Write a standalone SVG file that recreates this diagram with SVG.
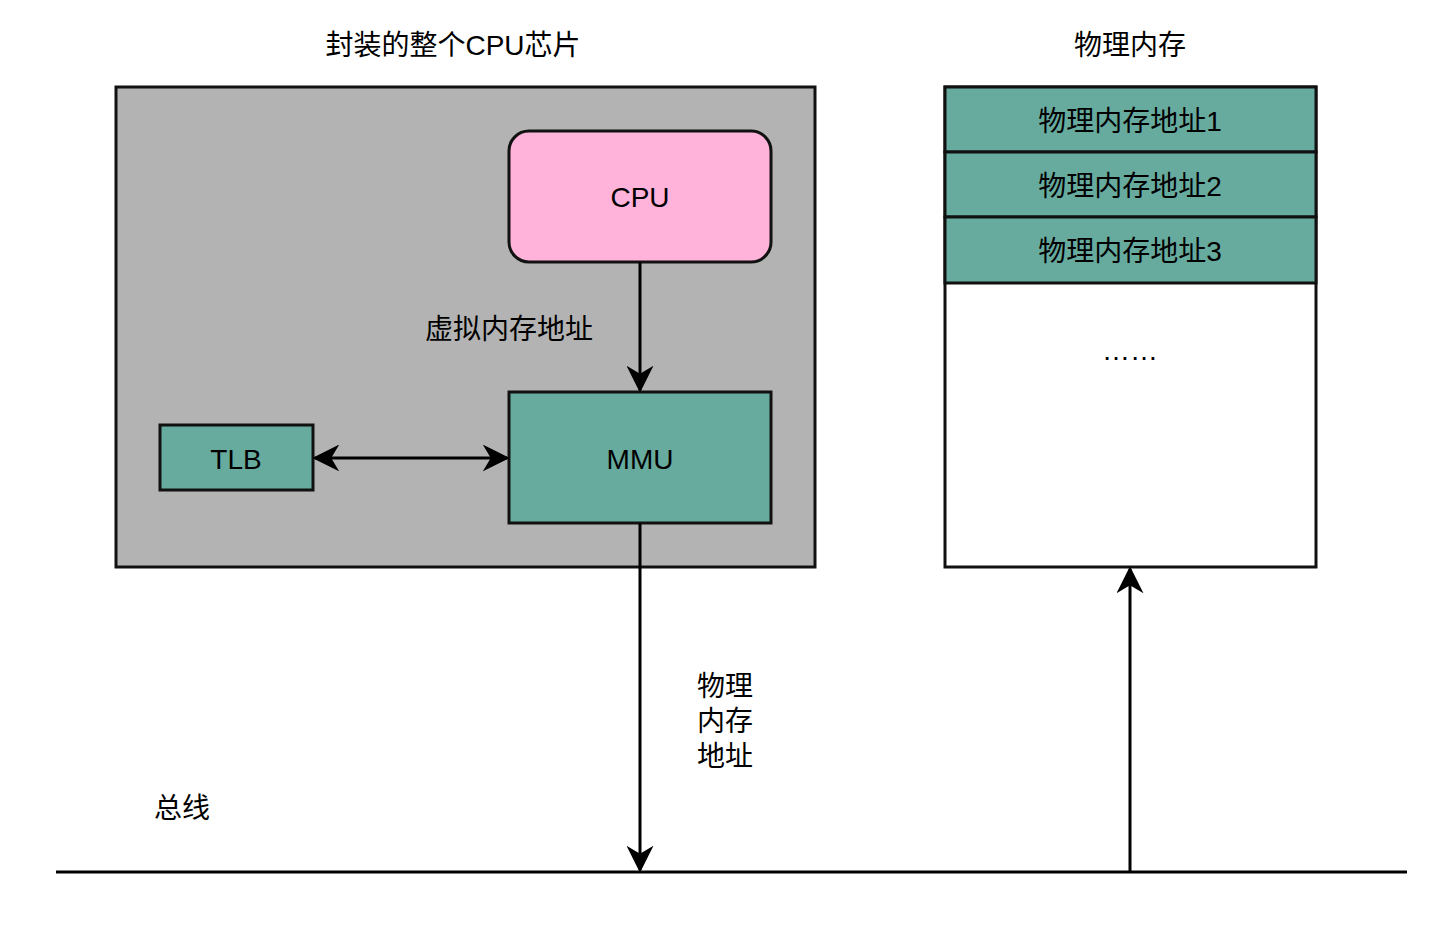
<svg xmlns="http://www.w3.org/2000/svg" width="1443" height="928" viewBox="0 0 1443 928">
<defs>
<style>
text{font-family:"Liberation Sans","Noto Sans CJK SC",sans-serif;font-size:28px;fill:#000;text-anchor:middle;dominant-baseline:central}
.b{stroke:#111;stroke-width:3}
.t{fill:#67ab9f}
.l{stroke:#000;stroke-width:3;fill:none}
</style>
<marker id="a" viewBox="0 0 10 10" refX="9" refY="5" markerWidth="8" markerHeight="8" markerUnits="userSpaceOnUse" orient="auto-start-reverse"><path d="M0,0 L10,5 L0,10 L3,5 Z" fill="#000"/></marker>
<marker id="m" viewBox="0 0 10 10" refX="9" refY="5" markerWidth="9" markerHeight="9" orient="auto-start-reverse"><path d="M0,0 L10,5 L0,10 L3,5 Z" fill="#000"/></marker>
</defs>
<rect width="1443" height="928" fill="#fff"/>
<g id="chip"><rect x="116" y="87" width="699" height="480" fill="#b3b3b3" class="b"/><text x="453" y="45">封装的整个CPU芯片</text></g>
<g id="cpu"><rect x="509" y="131" width="262" height="131" rx="20" fill="#ffb3da" class="b"/><text x="640" y="197">CPU</text></g>
<g id="mmu"><rect x="509" y="392" width="262" height="131" class="b t"/><text x="640" y="459">MMU</text></g>
<g id="tlb"><rect x="160" y="425" width="153" height="65" class="b t"/><text x="236" y="459">TLB</text></g>
<g id="mem"><text x="1130" y="45">物理内存</text>
<rect x="945" y="87" width="371" height="480" fill="#fff" class="b"/>
<rect x="945" y="87" width="371" height="65" class="b t"/><text x="1130" y="121">物理内存地址1</text>
<rect x="945" y="152" width="371" height="65" class="b t"/><text x="1130" y="186">物理内存地址2</text>
<rect x="945" y="217" width="371" height="66" class="b t"/><text x="1130" y="251">物理内存地址3</text>
<text x="1130" y="350">……</text></g>
<g id="labels">
<text x="509" y="329">虚拟内存地址</text>
<text x="697" y="686" style="text-anchor:start">物理</text>
<text x="697" y="721" style="text-anchor:start">内存</text>
<text x="697" y="756" style="text-anchor:start">地址</text>
<text x="182" y="808">总线</text>
</g>
<g id="connectors">
<line x1="56" y1="872" x2="1407" y2="872" class="l"/>
<line x1="640" y1="262" x2="640" y2="390" class="l" marker-end="url(#m)"/>
<line x1="315" y1="458" x2="507" y2="458" class="l" marker-start="url(#m)" marker-end="url(#m)"/>
<line x1="640" y1="523" x2="640" y2="870" class="l" marker-end="url(#m)"/>
<line x1="1130" y1="872" x2="1130" y2="569" class="l" marker-end="url(#m)"/>
</g>
</svg>
